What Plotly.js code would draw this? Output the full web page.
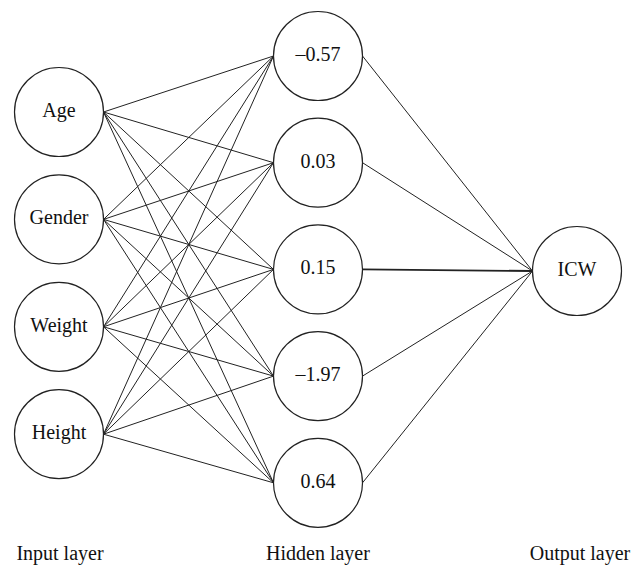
<!DOCTYPE html>
<html>
<head>
<meta charset="utf-8">
<script src="https://cdn.plot.ly/plotly-3.0.1.min.js"></script>
<style>html,body{margin:0;padding:0;background:#fff;}#chart{width:635px;height:566px;}</style>
</head>
<body>
<div id="chart"></div>
<script>
// ---- data ----
const inputLabels = ['Age', 'Gender', 'Weight', 'Height'];
const hiddenWeights = [-0.57, 0.03, 0.15, -1.97, 0.64];
const outputLabels = ['ICW'];
const layerTitles = ['Input layer', 'Hidden layer', 'Output layer'];

// ---- layout geometry (pixels in a 635x566 frame) ----
const layerX = [59, 318, 577];
const R = 44.5;
const inputTop = 112, inputStep = 107.4;
const hiddenTop = 56, hiddenStep = 106.7;
const outputY = 271;
const titleY = 555;
const titleX = [60, 318, 580];
const FAMILY = 'Liberation Serif';

function fmt(v) { return v < 0 ? '\u2013' + Math.abs(v).toFixed(2) : v.toFixed(2); }

const inY = inputLabels.map((_, i) => inputTop + i * inputStep);
const hidY = hiddenWeights.map((_, j) => hiddenTop + j * hiddenStep);
const outY = outputLabels.map(() => outputY);

const traces = [];
const lineColor = '#222';

// input -> hidden edges
const ex = [], ey = [];
inY.forEach(yi => {
  hidY.forEach(yj => {
    ex.push(layerX[0] + R, layerX[1] - R, null);
    ey.push(yi, yj, null);
  });
});
traces.push({x: ex, y: ey, mode: 'lines', line: {color: lineColor, width: 1}, showlegend: false});

// hidden -> output edges
hidY.forEach(yj => {
  outY.forEach(yo => {
    const horiz = Math.abs(yj - yo) < 3;
    traces.push({x: [layerX[1] + R, layerX[2] - R], y: [yj, yo], mode: 'lines',
      line: {color: lineColor, width: horiz ? 1.8 : 1}, showlegend: false});
  });
});

// node labels
function textTrace(xs, ys, labels) {
  return {x: xs, y: ys, text: labels, mode: 'text', showlegend: false,
    textfont: {family: FAMILY, size: 20, color: '#111'}};
}
traces.push(textTrace(inY.map(() => layerX[0]), inY, inputLabels));
traces.push(textTrace(hidY.map(() => layerX[1]), hidY, hiddenWeights.map(fmt)));
traces.push(textTrace(outY.map(() => layerX[2]), outY, outputLabels));
traces.push(textTrace(titleX, titleX.map(() => titleY), layerTitles));

// circles
const shapes = [];
function circ(cx, cy) {
  shapes.push({type: 'circle', xref: 'x', yref: 'y', x0: cx - R, x1: cx + R, y0: cy - R, y1: cy + R,
    line: {color: '#222', width: 1.2}, fillcolor: 'rgba(255,255,255,0)'});
}
inY.forEach(y => circ(layerX[0], y));
hidY.forEach(y => circ(layerX[1], y));
outY.forEach(y => circ(layerX[2], y));

const layout = {
  width: 635, height: 566,
  margin: {l: 0, r: 0, t: 0, b: 0},
  font: {family: FAMILY},
  xaxis: {range: [0, 635], visible: false},
  yaxis: {range: [566, 0], visible: false},
  shapes: shapes,
  showlegend: false
};

function applyFont(gd) {
  gd.querySelectorAll('.textpoint text').forEach(t => { t.style.fontFamily = '"' + FAMILY + '"'; });
}

const loadFont = (document.fonts && document.fonts.load) ? document.fonts.load('20px "' + FAMILY + '"').catch(() => null) : Promise.resolve();
loadFont.then(() => Plotly.newPlot('chart', traces, layout, {staticPlot: true}))
  .then(gd => { applyFont(gd); return Plotly.redraw(gd); })
  .then(gd => applyFont(gd || document.getElementById('chart')));
</script>
</body>
</html>
